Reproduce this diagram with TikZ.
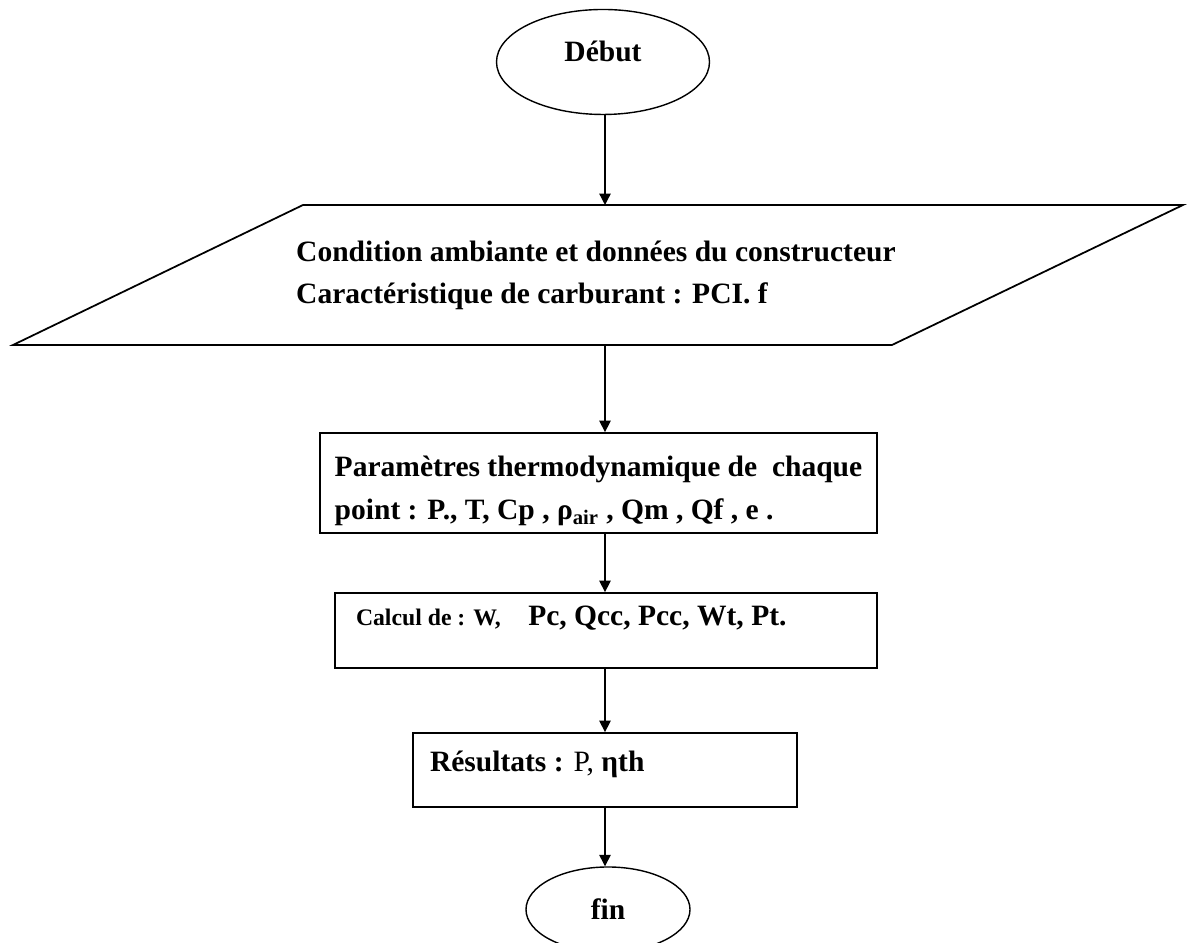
\documentclass[tikz,border=0pt]{standalone}
\usepackage{fontspec}
\setmainfont{Liberation Serif}
\usetikzlibrary{arrows.meta, shapes.geometric}

\begin{document}
\begin{tikzpicture}[
        every node/.style = {font = \bfseries\fontsize{16.8}{24}\selectfont},
        bout/.style = {draw, ellipse, line width = .8},
        etape/.style = {draw, rectangle, line width = 1, align = flush left, inner ysep = 0},
        fleche/.style = {line width = .8, -{Triangle[length = 6.5pt, width = 6.5pt]}}
    ]
        \useasboundingbox (0, 0) rectangle (23.76, 18.86);
        \coordinate (axe) at (12.1, 0);
        \node [bout, minimum width = 4.26cm, minimum height = 2.1cm] (debut) at (12.06, 17.62) {};
        \node (debuttexte) at (12.06, 17.84) {Début};
        \draw [line width = 1] (6.06, 14.76) -- (23.66, 14.76) -- (17.84, 11.96) -- (.26, 11.96) -- cycle;
        \coordinate (donneeshaut) at (12.1, 14.76);
        \coordinate (donneesbas) at (12.1, 11.96);
        \node [align = flush left, anchor = west] (donnees) at (5.8, 13.36) {Condition ambiante et données du constructeur\\Caractéristique de carburant : PCI. f};
        \node [etape, minimum width = 11.14cm, minimum height = 2cm, font = \bfseries\fontsize{16.8}{24.5}\selectfont] (parametres) at (11.97, 9.2) {\rule{0pt}{.74cm}Paramètres thermodynamique de\ \ chaque\\point : P., T, Cp , ρ\textsubscript{air} , Qm , Qf , e .};
        \node [etape, text width = 10cm, inner xsep = .42cm, minimum height = 1.5cm, text height = .45cm, text depth = .63cm] (calcul) at (12.12, 6.25) {{\fontsize{13.5}{16}\selectfont Calcul de : W,}\hspace{.55cm}Pc, Qcc, Pcc, Wt, Pt.};
        \node [etape, text width = 7cm, inner xsep = .34cm, minimum height = 1.48cm, text height = .45cm, text depth = .37cm] (resultats) at (12.1, 3.46) {Résultats : {\mdseries P,} ηth};
        \node [bout, minimum width = 3.28cm, minimum height = 1.7cm] (fin) at (12.16, .67) {fin};
        \draw [fleche] (debut.south -| axe) -- (donneeshaut);
        \draw [fleche] (donneesbas) -- (parametres.north -| axe);
        \draw [fleche] (parametres.south -| axe) -- (calcul.north -| axe);
        \draw [fleche] (calcul.south -| axe) -- (resultats.north -| axe);
        \draw [fleche] (resultats.south -| axe) -- (fin.north -| axe);
\end{tikzpicture}
\end{document}
